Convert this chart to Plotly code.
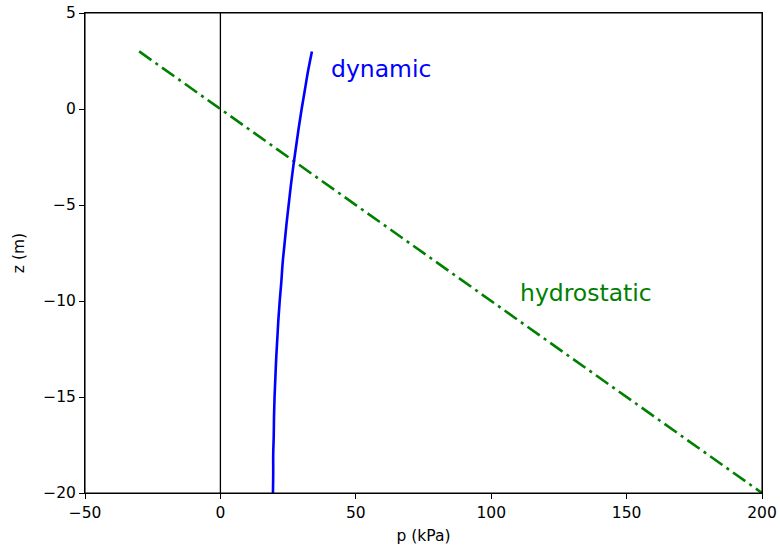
import plotly.graph_objects as go

# Data
z_dyn = [3, 2, 1, 0, -1, -2, -3, -4, -5, -6, -7, -8, -9, -10, -11, -12, -13, -14, -15, -16, -17, -18, -19, -20]
p_dyn = [33.8, 32.4, 31.2, 30.0, 28.9, 27.9, 26.9, 26.0, 25.2, 24.4, 23.7, 23.0, 22.5, 21.9,
         21.4, 21.0, 20.6, 20.3, 20.0, 19.8, 19.7, 19.5, 19.5, 19.4]
z_hyd = [3, -20]
p_hyd = [-30, 200]
z_zero = [-20, 5]
p_zero = [0, 0]

x_ticks = [-50, 0, 50, 100, 150, 200]
y_ticks = [-20, -15, -10, -5, 0, 5]

FONT = "DejaVu Sans"

fig = go.Figure()
fig.add_trace(go.Scatter(x=p_zero, y=z_zero, mode="lines",
                         line=dict(color="black", width=1.3), showlegend=False))
fig.add_trace(go.Scatter(x=p_hyd, y=z_hyd, mode="lines",
                         line=dict(color="green", width=2.6, dash="15px,5px,3px,5px"),
                         showlegend=False))
fig.add_trace(go.Scatter(x=p_dyn, y=z_dyn, mode="lines", line_shape="spline",
                         line=dict(color="blue", width=2.6), showlegend=False))

fig.add_annotation(x=40, y=2.1, text="dynamic", showarrow=False, xanchor="left",
                   yanchor="middle", font=dict(family=FONT, size=23.5, color="blue"))
fig.add_annotation(x=110, y=-9.6, text="hydrostatic", showarrow=False, xanchor="left",
                   yanchor="middle", font=dict(family=FONT, size=23.5, color="green"))

# frame around the plotting area (matplotlib-style spines)
fig.add_shape(type="rect", xref="x domain", yref="y domain", x0=0, x1=1, y0=0, y1=1,
              line=dict(color="black", width=1.1), fillcolor="rgba(0,0,0,0)", layer="above")

axis_common = dict(showgrid=False, zeroline=False, showline=True, linecolor="black",
                   linewidth=1, mirror=True, ticks="outside", ticklen=5, tickwidth=1,
                   tickcolor="black", automargin=False, ticklabeloverflow="allow",
                   tickfont=dict(family=FONT, size=15.5, color="black"))

fig.update_xaxes(range=[-50, 200], tickvals=x_ticks,
                 title=dict(text="p (kPa)", font=dict(family=FONT, size=15.5, color="black"), standoff=9),
                 **axis_common)
fig.update_yaxes(range=[-20, 5], tickvals=y_ticks,
                 title=dict(text="z (m)", font=dict(family=FONT, size=15.5, color="black"), standoff=14),
                 **axis_common)

fig.update_layout(width=780, height=549, margin=dict(l=85, r=18, t=13, b=56, autoexpand=False),
                  plot_bgcolor="white", paper_bgcolor="white",
                  font=dict(family=FONT, color="black"))

# remove the default 8px page margin so the figure sits at the window's corner
fig.write_html("out.html", config={"displayModeBar": False},
               post_script="document.body.style.margin='0';document.body.style.overflow='hidden';")
